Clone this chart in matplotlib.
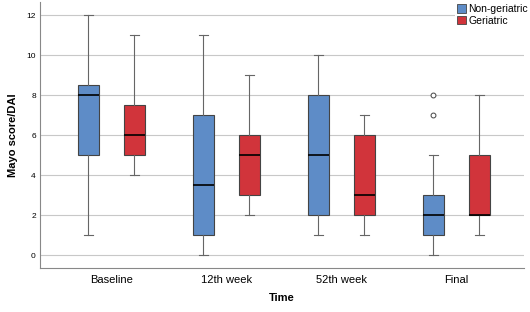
import matplotlib.pyplot as plt
from matplotlib.patches import Patch

plt.rcParams['font.family'] = ['Liberation Sans', 'DejaVu Sans']

# data
times = ['Baseline', '12th week', '52th week', 'Final']
groups = ['Non-geriatric', 'Geriatric']

non_low = [1, 0, 1, 0]
non_q1 = [5, 1, 2, 1]
non_med = [8, 3.5, 5, 2]
non_q3 = [8.5, 7, 8, 3]
non_high = [12, 11, 10, 5]
non_fliers = [[], [], [], [7, 8]]

ger_low = [4, 2, 1, 1]
ger_q1 = [5, 3, 2, 2]
ger_med = [6, 5, 3, 2]
ger_q3 = [7.5, 6, 6, 5]
ger_high = [11, 9, 7, 8]
ger_fliers = [[], [], [], []]

colors = ['#5E8CC7', '#D1343B']

fig = plt.figure(figsize=(5.3, 3.12), dpi=100)
ax = fig.add_axes([40/530, 1-268/312, (524-40)/530, (268-2)/312])

def make_stats(low, q1, med, q3, high, fliers):
    return [dict(whislo=a, q1=b, med=c, q3=d, whishi=e, fliers=f)
            for a, b, c, d, e, f in zip(low, q1, med, q3, high, fliers)]

sets = [make_stats(non_low, non_q1, non_med, non_q3, non_high, non_fliers),
        make_stats(ger_low, ger_q1, ger_med, ger_q3, ger_high, ger_fliers)]

for k, stats in enumerate(sets):
    pos = [i + (k - 0.5) * 0.4 for i in range(len(times))]
    ax.bxp(stats, positions=pos, widths=0.18, patch_artist=True,
           boxprops=dict(facecolor=colors[k], edgecolor='#444444', linewidth=0.8),
           medianprops=dict(color='black', linewidth=1.2),
           whiskerprops=dict(color='#666666', linewidth=0.8),
           capprops=dict(color='#666666', linewidth=0.8),
           capwidths=0.08,
           flierprops=dict(marker='o', markersize=3.5, markerfacecolor='white',
                           markeredgecolor='#444444', markeredgewidth=0.7),
           zorder=3)

ax.set_xlim(-0.62, 3.59)
ax.set_ylim(-0.65, 12.65)
ax.set_xticks(range(len(times)))
ax.set_xticklabels(times, fontsize=8)
ax.set_yticks(range(0, 13, 2))
ax.tick_params(axis='y', labelsize=6, length=0, pad=3)
ax.tick_params(axis='x', length=0, pad=5)
ax.yaxis.grid(True, color='#c8c8c8', linewidth=0.8, zorder=0)
ax.set_axisbelow(True)
for s in ['top', 'right']:
    ax.spines[s].set_visible(False)
for s in ['left', 'bottom']:
    ax.spines[s].set_color('#888888')
    ax.spines[s].set_linewidth(0.8)

ax.set_ylabel('Mayo score/DAI', fontsize=8, fontweight='bold', labelpad=6)
ax.set_xlabel('Time', fontsize=8, fontweight='bold', labelpad=6)

handles = [Patch(facecolor=colors[k], edgecolor='#444444', linewidth=0.6) for k in range(2)]
leg = ax.legend(handles, groups, loc='upper right', bbox_to_anchor=(1.012, 1.0),
                frameon=True, fancybox=False, framealpha=1, edgecolor='none',
                facecolor='white', borderpad=0.2,
                fontsize=7.5, handlelength=0.9, handleheight=0.9, handletextpad=0.2,
                labelspacing=0.15, borderaxespad=0)
leg.set_zorder(5)

fig.savefig('out.png', dpi=100)
